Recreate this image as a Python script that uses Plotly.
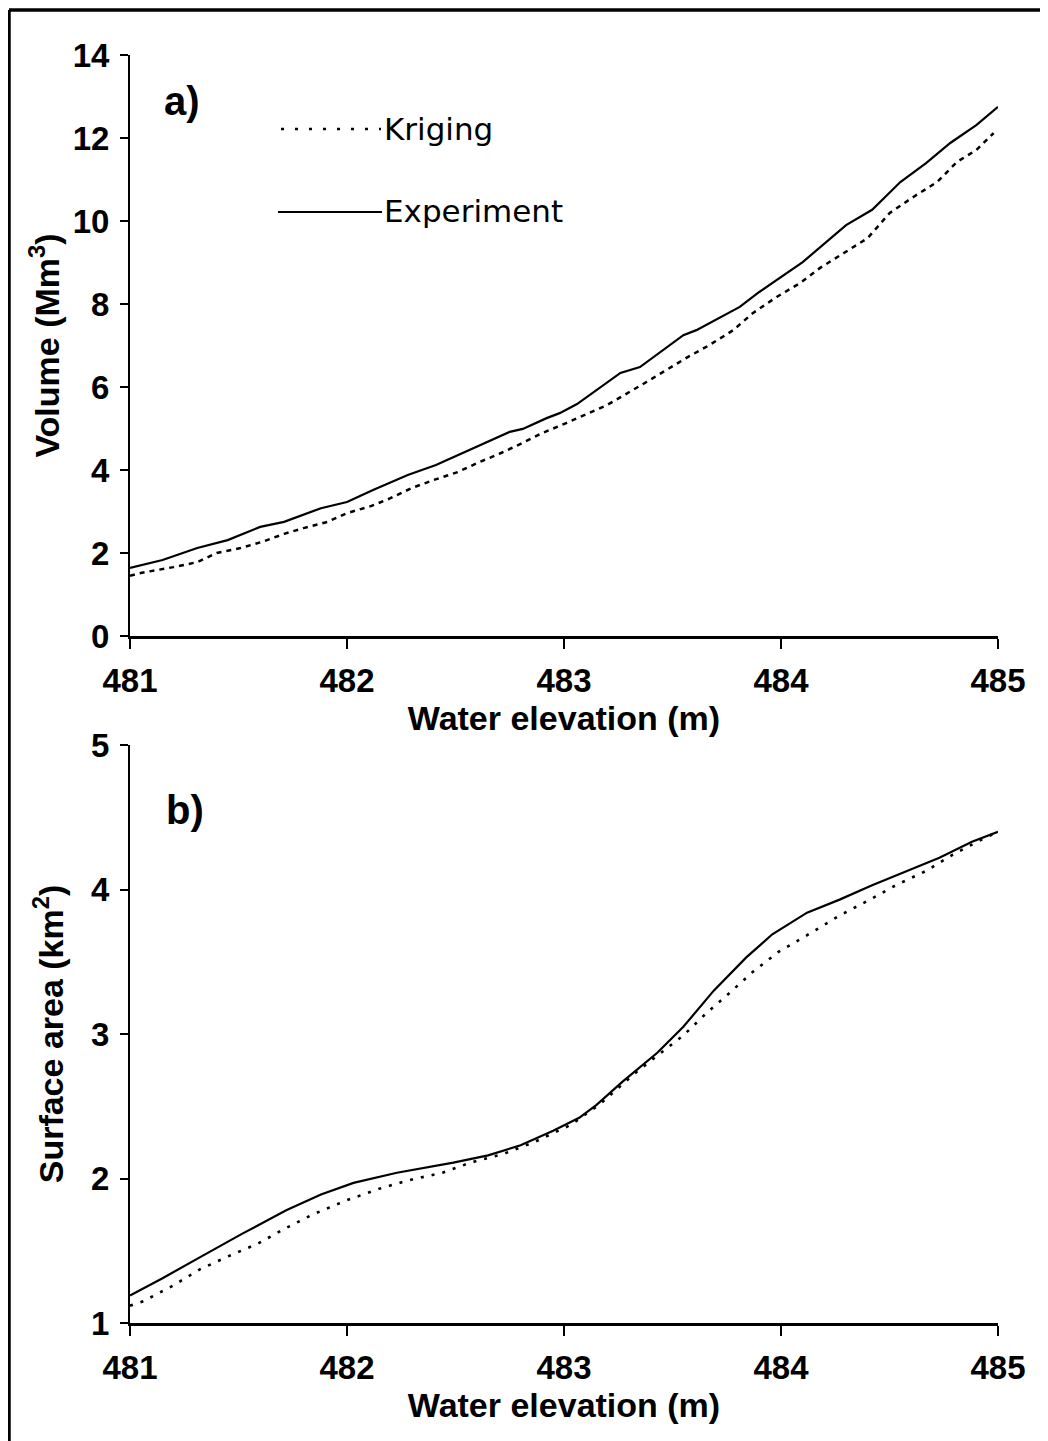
import plotly.graph_objects as go

# ---------------- data ----------------
# Panel a) Volume (Mm3) vs water elevation (m)
vol_exp_elev = [481.00, 481.15, 481.31, 481.45, 481.60, 481.71, 481.88, 482.00, 482.12, 482.28,
                482.41, 482.58, 482.75, 482.81, 482.92, 482.98, 483.06, 483.26, 483.35, 483.55,
                483.61, 483.81, 483.90, 484.10, 484.30, 484.42, 484.55, 484.67, 484.78, 484.90, 485.00]
vol_exp = [1.64, 1.83, 2.12, 2.31, 2.63, 2.75, 3.08, 3.23, 3.52, 3.88,
           4.12, 4.53, 4.92, 4.99, 5.25, 5.37, 5.59, 6.34, 6.48, 7.25,
           7.37, 7.93, 8.29, 9.01, 9.90, 10.27, 10.94, 11.40, 11.88, 12.31, 12.75]

vol_kri_elev = [481.00, 481.05, 481.20, 481.31, 481.40, 481.51, 481.61, 481.71, 481.80, 481.91,
                482.00, 482.11, 482.20, 482.30, 482.40, 482.51, 482.61, 482.71, 482.80, 482.90,
                483.01, 483.20, 483.38, 483.57, 483.67, 483.78, 483.87, 483.98, 484.09, 484.18,
                484.29, 484.40, 484.50, 484.61, 484.72, 484.81, 484.90, 484.98]
vol_kri = [1.45, 1.52, 1.66, 1.78, 2.00, 2.12, 2.27, 2.46, 2.60, 2.75,
           2.96, 3.13, 3.32, 3.57, 3.76, 3.95, 4.19, 4.41, 4.63, 4.89,
           5.13, 5.57, 6.12, 6.72, 7.01, 7.37, 7.78, 8.17, 8.51, 8.87,
           9.23, 9.59, 10.19, 10.58, 10.94, 11.42, 11.71, 12.12]

# Panel b) Surface area (km2) vs water elevation (m)
area_exp_elev = [481.00, 481.15, 481.34, 481.52, 481.72, 481.88, 482.03, 482.23, 482.49, 482.65,
                 482.80, 482.95, 483.07, 483.15, 483.27, 483.43, 483.55, 483.69, 483.84, 483.96,
                 484.12, 484.27, 484.42, 484.58, 484.73, 484.88, 485.00]
area_exp = [1.19, 1.31, 1.47, 1.62, 1.78, 1.89, 1.97, 2.04, 2.11, 2.16,
            2.23, 2.33, 2.42, 2.51, 2.67, 2.87, 3.05, 3.30, 3.53, 3.69,
            3.84, 3.93, 4.03, 4.13, 4.22, 4.33, 4.40]

area_kri_elev = [481.00, 481.06, 481.20, 481.32, 481.45, 481.59, 481.71, 481.84, 482.00, 482.15,
                 482.29, 482.44, 482.57, 482.72, 482.86, 483.03, 483.17, 483.32, 483.43, 483.55,
                 483.66, 483.76, 483.87, 483.99, 484.15, 484.27, 484.41, 484.53, 484.67, 484.79,
                 484.93, 485.00]
area_kri = [1.12, 1.15, 1.26, 1.37, 1.46, 1.55, 1.65, 1.75, 1.85, 1.93,
            1.99, 2.04, 2.11, 2.17, 2.25, 2.37, 2.52, 2.72, 2.85, 2.99,
            3.15, 3.28, 3.43, 3.57, 3.71, 3.82, 3.93, 4.03, 4.13, 4.24,
            4.35, 4.40]

x_ticks = [481, 482, 483, 484, 485]
vol_ticks = [0, 2, 4, 6, 8, 10, 12, 14]
area_ticks = [1, 2, 3, 4, 5]

series_names = ["Kriging", "Experiment"]

# ---------------- figure ----------------
OFF = 8  # page body margin
W, H = 1040, 1433
def px(x):
    return (x - OFF) / W
def py(y):
    return 1 - (y - OFF) / H

FONT = "Liberation Sans, Arial, sans-serif"
tick_font = dict(family=FONT, size=33, color="black", weight="bold")
title_font = dict(family=FONT, size=34, color="black", weight="bold")

fig = go.Figure()

fig.add_trace(go.Scatter(x=vol_kri_elev, y=vol_kri, mode="lines", name=series_names[0],
                         line=dict(color="black", width=2.5, dash="5px,5px"),
                         xaxis="x", yaxis="y", showlegend=False))
fig.add_trace(go.Scatter(x=vol_exp_elev, y=vol_exp, mode="lines", name=series_names[1],
                         line=dict(color="black", width=2.2),
                         xaxis="x", yaxis="y", showlegend=False))
fig.add_trace(go.Scatter(x=area_kri_elev, y=area_kri, mode="lines", name=series_names[0],
                         line=dict(color="black", width=2.6, dash="3px,8px"),
                         xaxis="x2", yaxis="y2", showlegend=False))
fig.add_trace(go.Scatter(x=area_exp_elev, y=area_exp, mode="lines", name=series_names[1],
                         line=dict(color="black", width=2.2),
                         xaxis="x2", yaxis="y2", showlegend=False))

xdom = [px(130), px(998)]
common_x = dict(range=[481, 485], tickvals=x_ticks, ticks="outside", ticklen=10, tickwidth=2,
                tickcolor="black", showline=True, linecolor="black", linewidth=3,
                showgrid=False, zeroline=False, tickfont=tick_font, ticklabelstandoff=3,
                title=dict(text="Water elevation (m)", font=title_font, standoff=4))
common_y = dict(ticks="outside", ticklen=8, tickwidth=2, tickcolor="black",
                showline=True, linecolor="black", linewidth=2, showgrid=False, zeroline=False,
                tickfont=tick_font, ticklabelstandoff=4)

fig.update_layout(
    width=W, height=H,
    margin=dict(l=0, r=0, t=0, b=0, autoexpand=False),
    paper_bgcolor="white", plot_bgcolor="white",
    showlegend=False,
    xaxis=dict(domain=xdom, anchor="y", **common_x),
    yaxis=dict(domain=[py(636), py(55)], anchor="x", range=[0, 14], tickvals=vol_ticks,
               title=dict(text="Volume (Mm<sup>3</sup>)", font=title_font, standoff=3),
               **common_y),
    xaxis2=dict(domain=xdom, anchor="y2", **common_x),
    yaxis2=dict(domain=[py(1323), py(745)], anchor="x2", range=[1, 5], tickvals=area_ticks,
                title=dict(text="Surface area (km<sup>2</sup>)", font=title_font, standoff=17),
                **common_y),
)

# frame lines (top and left) of the scanned figure
fig.add_shape(type="line", xref="paper", yref="paper", x0=px(9), x1=1, y0=py(10), y1=py(10),
              line=dict(color="black", width=3.5))
fig.add_shape(type="line", xref="paper", yref="paper", x0=px(9), x1=px(9), y0=py(10), y1=0,
              line=dict(color="black", width=3.5))

# panel labels
fig.add_annotation(text="a)", xref="paper", yref="paper", x=px(162), y=py(101),
                   xanchor="left", yanchor="middle", showarrow=False,
                   font=dict(family=FONT, size=40, color="black", weight="bold"))
fig.add_annotation(text="b)", xref="paper", yref="paper", x=px(164), y=py(810),
                   xanchor="left", yanchor="middle", showarrow=False,
                   font=dict(family=FONT, size=40, color="black", weight="bold"))

# legend (drawn as key lines + labels)
leg_font = dict(family="DejaVu Sans, sans-serif", size=31, color="black")
fig.add_shape(type="line", xref="paper", yref="paper", x0=px(281), x1=px(381), y0=py(129), y1=py(129),
              line=dict(color="black", width=2.6, dash="3px,11px"))
fig.add_shape(type="line", xref="paper", yref="paper", x0=px(278), x1=px(382), y0=py(212), y1=py(212),
              line=dict(color="black", width=2.2))
fig.add_annotation(text=series_names[0], xref="paper", yref="paper", x=px(382), y=py(129),
                   xanchor="left", yanchor="middle", showarrow=False, font=leg_font)
fig.add_annotation(text=series_names[1], xref="paper", yref="paper", x=px(382), y=py(211),
                   xanchor="left", yanchor="middle", showarrow=False, font=leg_font)

fig.write_html("out.html")
